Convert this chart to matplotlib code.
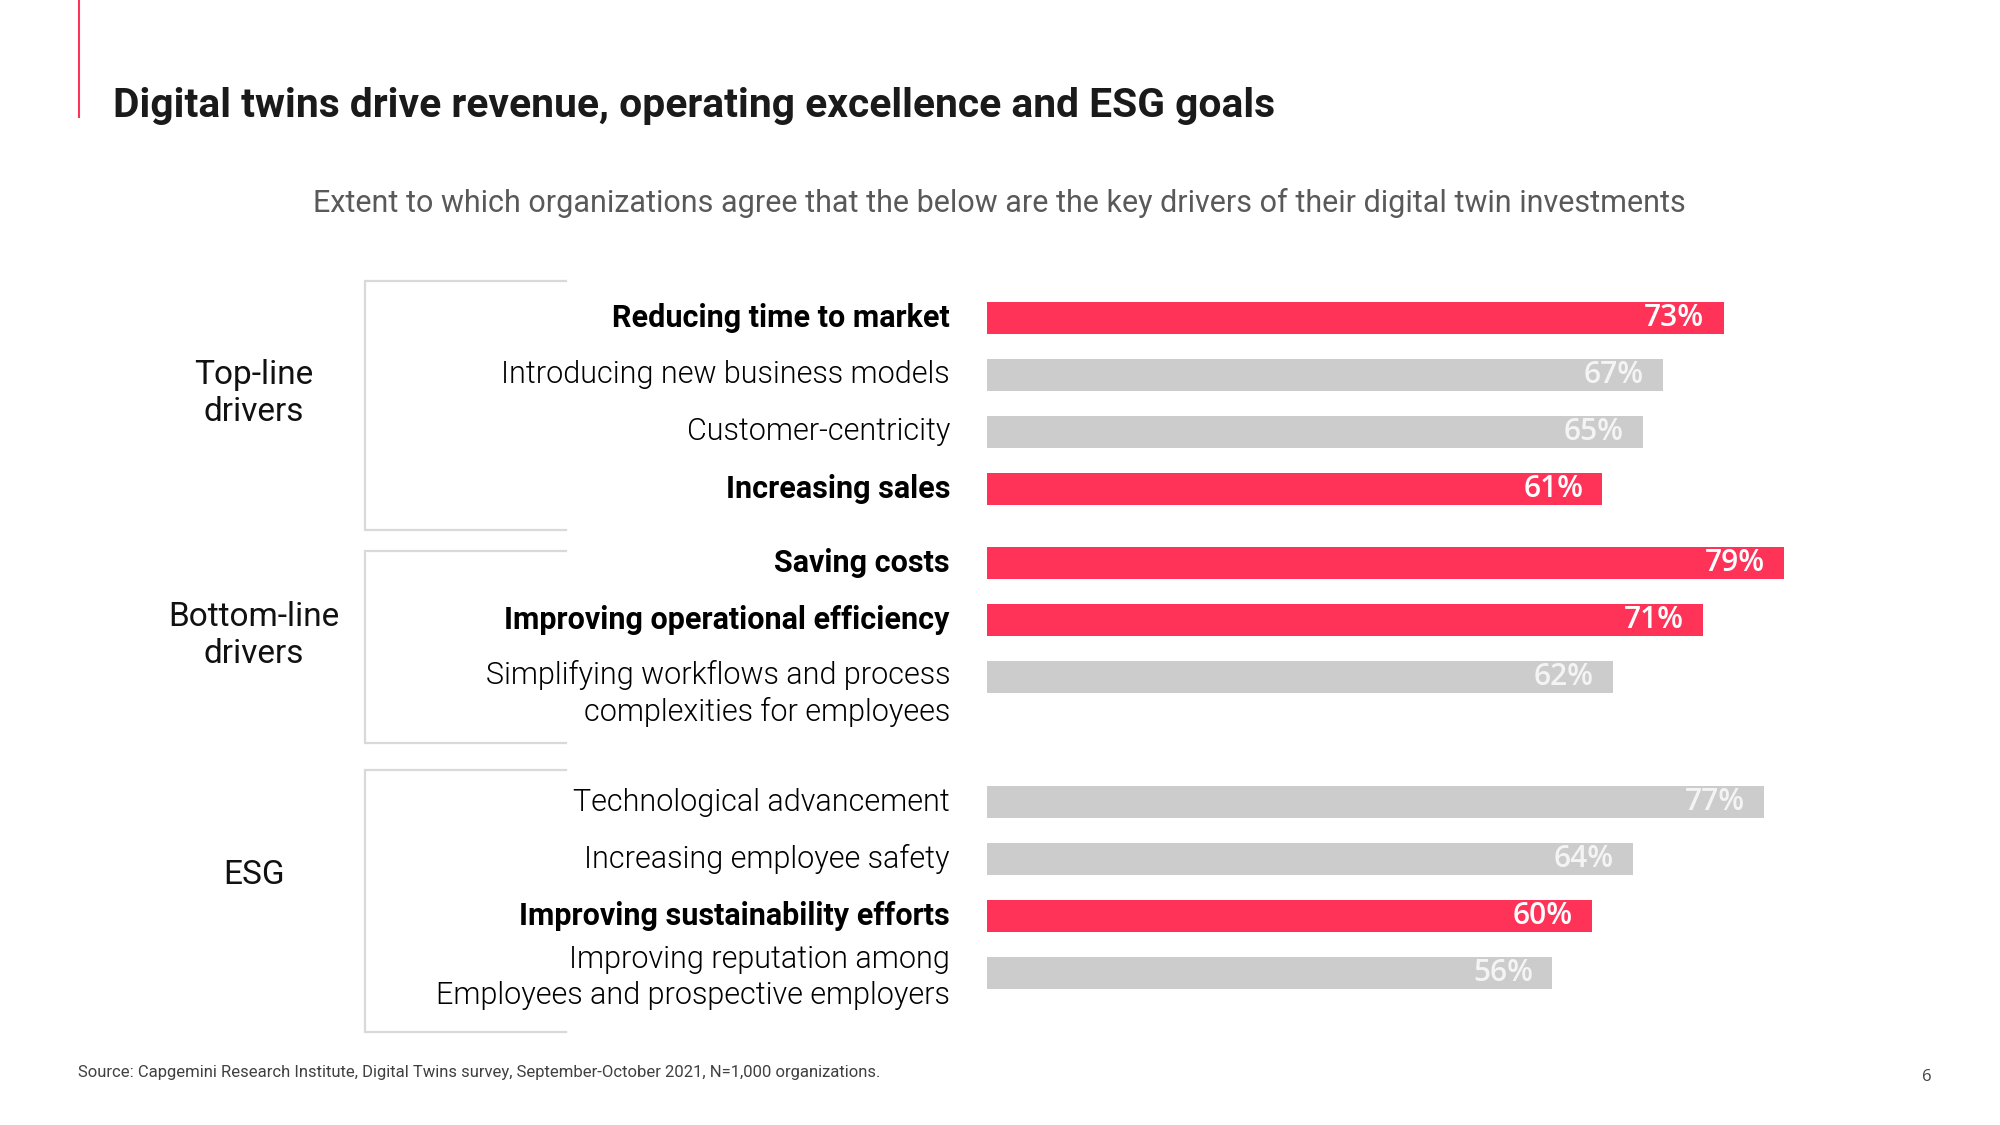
import matplotlib.pyplot as plt
import matplotlib.lines as mlines

# data
labels = ['Reducing time to market', 'Introducing new business models', 'Customer-centricity',
          'Increasing sales', 'Saving costs', 'Improving operational efficiency',
          'Simplifying workflows and process\ncomplexities for employees',
          'Technological advancement', 'Increasing employee safety',
          'Improving sustainability efforts',
          'Improving reputation among\nEmployees and prospective employers']
values = [73, 67, 65, 61, 79, 71, 62, 77, 64, 60, 56]
highlight = [True, False, False, True, True, True, False, False, False, True, False]
group_names = ['Top-line\ndrivers', 'Bottom-line\ndrivers', 'ESG']
group_of = [0, 0, 0, 0, 1, 1, 1, 2, 2, 2, 2]

RED = '#ff3358'
GREY = '#cccccc'

W, H = 2000, 1125
fig = plt.figure(figsize=(20, 11.25), dpi=100)

# row positions: 1 per row, extra gap between groups and after two-line labels
pos = []
y = 0.0
for i in range(len(labels)):
    if i > 0:
        y += 1.0
        if group_of[i] != group_of[i - 1]:
            y += 0.3
        if '\n' in labels[i - 1]:
            y += 0.9
    pos.append(y)

px_pct = 10.09   # pixels per percentage point
px_row = 57.0    # pixels per row unit
x0_px, y0_px = 987, 317.6
ax_top, ax_bot = 280, 1040
xmax = 90
ax = fig.add_axes([x0_px / W, 1 - ax_bot / H, xmax * px_pct / W, (ax_bot - ax_top) / H])
ax.set_xlim(0, xmax)
ax.set_ylim((ax_bot - y0_px) / px_row, (ax_top - y0_px) / px_row)
ax.axis('off')

colors = [RED if h else GREY for h in highlight]
ax.barh(pos, values, height=0.56, color=colors)

def px2x(px):
    return (px - x0_px) / px_pct

# vertical nudge for the two-line labels
label_dy = [0, 0, 0, 0, 0, 0, 0.29, 0, 0, 0, 0.08]

for p, v, lab, h, dy in zip(pos, values, labels, highlight, label_dy):
    ax.text(v - 1.9, p, f'{v}%', ha='right', va='center', fontsize=21.5,
            family=['Open Sans', 'DejaVu Sans'], weight='semibold',
            color='white' if h else '#f4f4f4')
    ax.text(px2x(950), p + dy, lab, ha='right', va='center',
            multialignment='right', fontsize=22, linespacing=1.3,
            family=['Roboto', 'DejaVu Sans'],
            weight='bold' if h else 300, color='black',
            clip_on=False)

# brackets and group labels
xl, xr = px2x(365), px2x(566)
top_pad = [0.64, 0.2, 0.57]
bot_pad = [0.72, 1.17, 1.04]
label_shift = [-0.2, -0.2, -0.45]
for g, name in enumerate(group_names):
    rows = [i for i in range(len(labels)) if group_of[i] == g]
    top = pos[rows[0]] - top_pad[g]
    bot = pos[rows[-1]] + bot_pad[g]
    ax.plot([xr, xl, xl, xr], [top, top, bot, bot], color='#d9d9d9', lw=1.6,
            clip_on=False, solid_joinstyle='miter')
    ax.text(px2x(254), (top + bot) / 2 + label_shift[g], name, ha='center', va='center',
            fontsize=24, family=['Roboto', 'DejaVu Sans'], color='#111111',
            linespacing=1.2, clip_on=False)

# page decorations
fig.add_artist(mlines.Line2D([79 / W, 79 / W], [1, 1 - 117 / H], color=RED, lw=1.5))
fig.text(113 / W, 1 - 106 / H, 'Digital twins drive revenue, operating excellence and ESG goals',
         ha='left', va='center', fontsize=29.3, weight='bold',
         family=['Roboto', 'DejaVu Sans'], color='#1a1a1a')
fig.text(999 / W, 1 - 203 / H,
         'Extent to which organizations agree that the below are the key drivers of their digital twin investments',
         ha='center', va='center', fontsize=22, family=['Roboto', 'DejaVu Sans'], color='#595959')
fig.text(78 / W, 1 - 1073 / H,
         'Source: Capgemini Research Institute, Digital Twins survey, September-October 2021, N=1,000 organizations.',
         ha='left', va='center', fontsize=12, family=['Roboto', 'DejaVu Sans'], color='#404040')
fig.text(1927 / W, 1 - 1077 / H, '6', ha='center', va='center', fontsize=12,
         family=['Open Sans', 'DejaVu Sans'], color='#404040')

fig.savefig('out.png', dpi=100, facecolor='white')
